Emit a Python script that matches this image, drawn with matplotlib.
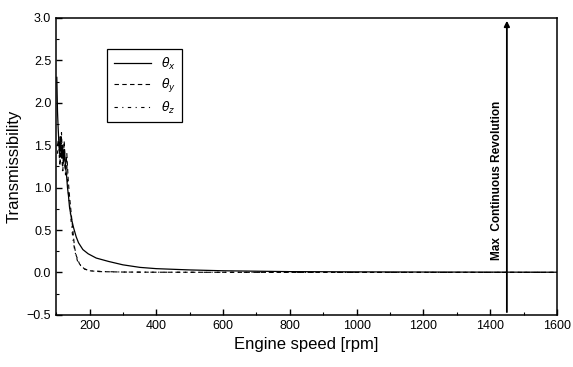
import numpy as np
import matplotlib
matplotlib.use("Agg")
import matplotlib.pyplot as plt
from matplotlib.ticker import MultipleLocator

plt.rcParams['font.family'] = ['Liberation Sans', 'DejaVu Sans']

# データ
rpm_x = [102, 104, 106, 108, 110, 113, 116, 119, 122, 125, 128, 131, 134, 137, 140,
         146, 152, 160, 167, 180, 196, 220, 257, 300, 351, 400, 500, 600, 800,
         1000, 1200, 1400, 1600]
theta_x = [2.3, 1.9, 1.7, 1.55, 1.4, 1.6, 1.35, 1.5, 1.3, 1.45, 1.25, 1.15, 1.0, 0.9, 0.77,
           0.63, 0.53, 0.42, 0.35, 0.27, 0.22, 0.17, 0.13, 0.09, 0.06, 0.045, 0.03, 0.02, 0.01,
           0.007, 0.005, 0.004, 0.003]

rpm_y = [104, 108, 112, 116, 120, 124, 128, 132, 136, 140, 145, 150, 155, 160, 170,
         185, 200, 230, 300, 400, 600, 800, 1000, 1200, 1400, 1600]
theta_y = [1.5, 1.6, 1.3, 1.65, 1.2, 1.55, 1.15, 1.4, 1.1, 0.9, 0.7, 0.5, 0.3, 0.2, 0.1,
           0.04, 0.02, 0.01, 0.005, 0.003, 0.002, 0.001, 0.001, 0.001, 0.001, 0.001]

rpm_z = [104, 107, 111, 115, 119, 123, 127, 131, 135, 140, 145, 150, 156, 165, 180,
         200, 250, 300, 400, 600, 800, 1000, 1200, 1400, 1600]
theta_z = [1.4, 1.55, 1.25, 1.6, 1.2, 1.5, 1.2, 1.35, 1.0, 0.8, 0.6, 0.4, 0.25, 0.12, 0.05,
           0.02, 0.01, 0.005, 0.003, 0.002, 0.001, 0.001, 0.001, 0.001, 0.001]

max_rpm = 1450
max_label = "Max  Continuous Revolution"

fig = plt.figure(figsize=(5.73, 3.67), dpi=100)
ax = fig.add_axes([0.098, 0.142, 0.874, 0.809])

ax.plot(rpm_x, theta_x, color="black", lw=0.9, label=r"$\theta_x$")
ax.plot(rpm_y, theta_y, color="black", lw=0.8, ls=(0, (4, 3)), label=r"$\theta_y$")
ax.plot(rpm_z, theta_z, color="black", lw=0.8, ls=(0, (3, 4, 1, 4)), label=r"$\theta_z$")

# 最大連続回転数の矢印
ax.annotate("", xy=(max_rpm, 3.0), xytext=(max_rpm, -0.5),
            arrowprops=dict(arrowstyle="-|>", color="black", lw=1.3, mutation_scale=8))
ax.text(max_rpm - 30, 1.08, max_label, rotation=90, fontsize=8.5, fontweight="bold",
        ha="center", va="center")

ax.set_xlim(100, 1600)
ax.set_ylim(-0.5, 3.0)
ax.xaxis.set_major_locator(MultipleLocator(200))
ax.xaxis.set_minor_locator(MultipleLocator(100))
ax.yaxis.set_major_locator(MultipleLocator(0.5))
ax.yaxis.set_minor_locator(MultipleLocator(0.25))
ax.tick_params(which="both", direction="in", labelsize=9)
ax.tick_params(which="major", length=4, width=1)
ax.tick_params(which="minor", length=2.5, width=0.8)
for s in ax.spines.values():
    s.set_linewidth(1.1)

ax.set_xlabel("Engine speed [rpm]", fontsize=12)
ax.set_ylabel("Transmissibility", fontsize=12)

leg = ax.legend(loc="upper left", bbox_to_anchor=(0.09, 0.915), fontsize=9,
                handlelength=3.0, fancybox=False, edgecolor="black",
                framealpha=1, borderpad=0.5, labelspacing=0.4)
leg.get_frame().set_linewidth(0.9)

fig.savefig("out.png", dpi=100)
